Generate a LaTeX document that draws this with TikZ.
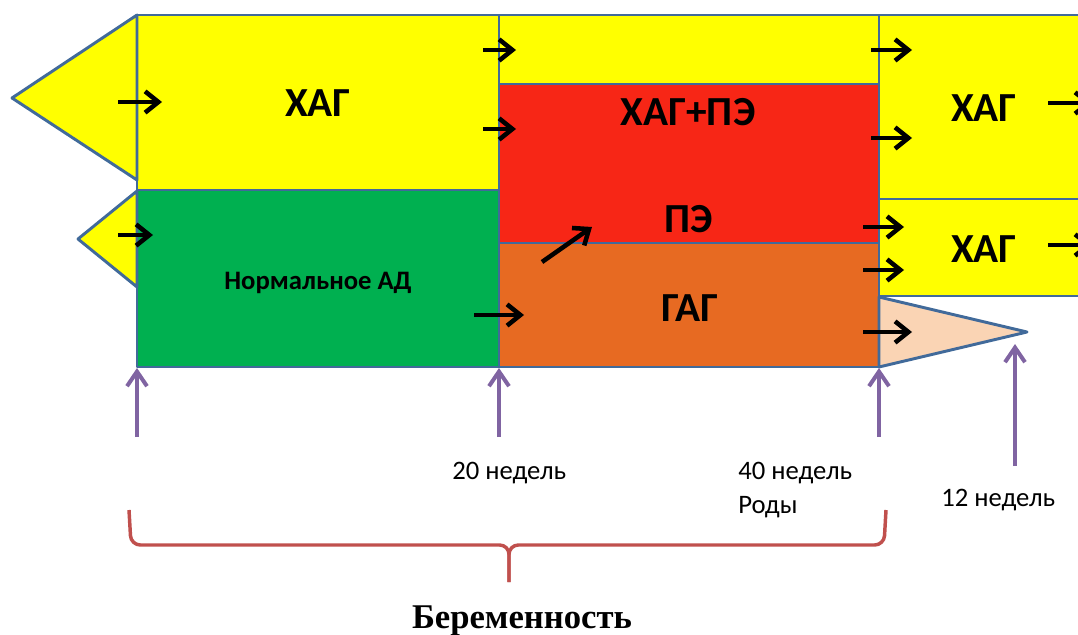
\documentclass[tikz,border=0pt]{standalone}
\usepackage{fontspec}
\setmainfont{Carlito}
\newfontfamily\serifbold{Liberation Serif}
\usepackage{tikz}
\usetikzlibrary{arrows.meta}

\definecolor{hagyellow}{HTML}{FFFF00}
\definecolor{normgreen}{HTML}{00B050}
\definecolor{pered}{HTML}{F72616}
\definecolor{gagorange}{HTML}{E76A22}
\definecolor{peach}{HTML}{FAD4B4}
\definecolor{boxline}{HTML}{416A9A}
\definecolor{weekpurple}{HTML}{8064A2}
\definecolor{bracered}{HTML}{C0504D}

\def\px{0.75pt}

\tikzset{
    box/.style={draw=boxline, line width=2.2pt, line join=round},
    blackarrow/.style={line width=3.4pt, -{Straight Barb[length=10pt, width=16pt]}},
    weekarrow/.style={draw=weekpurple, line width=3pt, -{Straight Barb[length=11pt, width=15pt]}},
    brace/.style={draw=bracered, line width=2.6pt, rounded corners=7pt},
    bigtag/.style={anchor=base, inner sep=0pt, font=\fontsize{31}{37}\selectfont\bfseries},
    midtag/.style={anchor=base, inner sep=0pt, font=\fontsize{20}{24}\selectfont\bfseries},
    weektag/.style={anchor=base west, inner sep=0pt, font=\fontsize{20}{24}\selectfont}
}

\begin{document}
\begin{tikzpicture}[x=\px, y=-\px]
    \useasboundingbox (0,0) rectangle (1078,635);

    % regions
    \draw[box, fill=hagyellow] (137,15) rectangle (499,190);
    \draw[box, fill=normgreen] (137,190) rectangle (499,367);
    \draw[box, fill=hagyellow] (499,15) rectangle (879,84);
    \draw[box, fill=pered] (499,84) rectangle (879,243);
    \draw[box, fill=gagorange] (499,243) rectangle (879,367);
    \draw[box, fill=hagyellow] (879,15) rectangle (1095,199);
    \draw[box, fill=hagyellow] (879,199) rectangle (1095,296);

    % wedges
    \draw[box, fill=hagyellow] (137,15) -- (12,98) -- (137,180) -- cycle;
    \draw[box, fill=hagyellow] (137,191) -- (78,239) -- (137,287) -- cycle;
    \draw[box, fill=peach] (879,297) -- (1027,332) -- (879,367) -- cycle;

    % transitions
    \foreach \n/\xa/\ya/\xb/\yb in {
        1/118/102/162/102,
        2/118/235/153/235,
        3/483/50/516/50,
        4/483/129/516/129,
        5/474/315/524/315,
        6/542/262/592/227,
        7/871/50/912/50,
        8/871/138/912/138,
        9/863/227/904/227,
        10/863/270/904/270,
        11/863/332/912/332,
        12/1048/103/1092/103,
        13/1048/245/1092/245}{

        \coordinate (a\n s) at (\xa,\ya);
        \coordinate (a\n e) at (\xb,\yb);
        \draw[blackarrow] (a\n s) -- (a\n e);
    }

    % labels
    \node[bigtag] (xag1) at (318,117) {ХАГ};
    \node[bigtag] (xagpe) at (688,126) {ХАГ+ПЭ};
    \node[bigtag] (pe) at (689,232) {ПЭ};
    \node[bigtag] (gag) at (690,321) {ГАГ};
    \node[bigtag] (xag2) at (984,122) {ХАГ};
    \node[bigtag] (xag3) at (984,262) {ХАГ};
    \node[midtag] (normad) at (318,289) {Нормальное АД};

    % time marks
    \foreach \n/\xa/\ya/\yb in {
        t0/137/437/368,
        t20/499/437/368,
        t40/879/437/368,
        t12/1015/466/344}{

        \coordinate (\n s) at (\xa,\ya);
        \coordinate (\n e) at (\xa,\yb);
        \draw[weekarrow] (\n s) -- (\n e);
    }
    \node[weektag] (w20) at (452,479) {20 недель};
    \node[weektag] (w40) at (738,479) {40 недель};
    \node[weektag] (rody) at (738,513) {Роды};
    \node[weektag] (w12) at (941,506) {12 недель};

    % brace
    \coordinate (bl) at (129,510);
    \coordinate (br) at (886,510);
    \coordinate (bm) at (509,582);
    \draw[brace] (bl) -- (131,545) -- (509,545) -- (bm);
    \draw[brace] (br) -- (884,545) -- (509,545) -- (bm);
    \node[anchor=base, inner sep=0pt, font=\fontsize{26}{31}\selectfont\serifbold\bfseries] (berem) at (522,628) {Беременность};
\end{tikzpicture}
\end{document}
